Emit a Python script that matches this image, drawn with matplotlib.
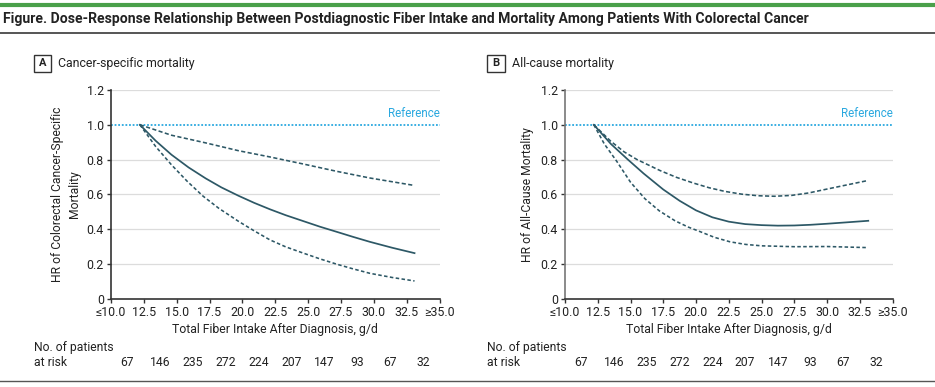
import matplotlib
matplotlib.use("Agg")
import matplotlib.pyplot as plt
from matplotlib.lines import Line2D
from matplotlib.patches import Rectangle
import matplotlib.transforms as mtransforms

FAM = ['Roboto', 'DejaVu Sans']
plt.rcParams['font.family'] = FAM

# ---------------- data ----------------
x_ticks = [10.0, 12.5, 15.0, 17.5, 20.0, 22.5, 25.0, 27.5, 30.0, 32.5, 35.0]
x_tick_labels = ['≤10.0', '12.5', '15.0', '17.5', '20.0', '22.5', '25.0', '27.5', '30.0', '32.5', '≥35.0']
y_ticks = [0, 0.2, 0.4, 0.6, 0.8, 1.0, 1.2]
y_tick_labels = ['0', '0.2', '0.4', '0.6', '0.8', '1.0', '1.2']

at_risk_x = [11.25, 13.75, 16.25, 18.75, 21.25, 23.75, 26.25, 28.75, 31.25, 33.75]
at_risk = [67, 146, 235, 272, 224, 207, 147, 93, 67, 32]

# Panel A: cancer-specific mortality
cs_x = [12.2, 13.4, 14.6, 15.9, 17.2, 18.4, 19.7, 20.9, 22.1, 23.3, 24.6, 25.9, 27.2, 28.4, 29.7, 31.4, 33.1]
cs_hr = [1.0, 0.908, 0.828, 0.755, 0.692, 0.640, 0.592, 0.551, 0.514, 0.480, 0.447, 0.414, 0.384, 0.356, 0.327, 0.293, 0.262]
cs_upper_x = [12.2, 14.6, 17.2, 19.7, 22.1, 24.6, 27.2, 29.7, 33.1]
cs_upper = [1.0, 0.94, 0.896, 0.851, 0.815, 0.775, 0.732, 0.694, 0.651]
cs_lower_x = [12.2, 13.4, 14.6, 15.8, 17.0, 18.2, 19.7, 20.9, 22.1, 23.3, 24.6, 25.9, 27.2, 28.4, 29.7, 31.4, 33.1]
cs_lower = [1.0, 0.875, 0.77, 0.675, 0.59, 0.52, 0.445, 0.39, 0.338, 0.298, 0.263, 0.229, 0.198, 0.172, 0.146, 0.122, 0.102]

# Panel B: all-cause mortality
ac_x = [12.2, 13.5, 14.8, 16.0, 17.5, 18.75, 20.0, 21.25, 22.5, 23.75, 25.0, 26.25, 27.5, 28.75, 30.0, 31.5, 33.15]
ac_hr = [1.0, 0.89, 0.80, 0.72, 0.628, 0.563, 0.508, 0.468, 0.443, 0.429, 0.423, 0.420, 0.421, 0.425, 0.431, 0.439, 0.448]
ac_upper_x = [12.2, 13.5, 14.5, 15.5, 17.25, 18.5, 19.8, 21.0, 22.2, 23.5, 24.75, 26.0, 27.3, 28.6, 29.85, 31.5, 33.15]
ac_upper = [1.0, 0.905, 0.845, 0.80, 0.737, 0.698, 0.665, 0.638, 0.617, 0.601, 0.592, 0.589, 0.594, 0.608, 0.628, 0.654, 0.68]
ac_lower_x = [12.2, 13.0, 13.95, 15.0, 16.1, 17.2, 18.4, 19.4, 20.3, 21.4, 22.6, 23.8, 25.0, 27.5, 30.0, 33.0]
ac_lower = [1.0, 0.89, 0.79, 0.67, 0.575, 0.505, 0.448, 0.412, 0.386, 0.353, 0.327, 0.312, 0.304, 0.299, 0.30, 0.294]

title = ("Figure. Dose-Response Relationship Between Postdiagnostic Fiber Intake "
         "and Mortality Among Patients With Colorectal Cancer")
xlabel = "Total Fiber Intake After Diagnosis, g/d"

# ---------------- layout ----------------
W, H = 935, 387
fig = plt.figure(figsize=(W / 100, H / 100), dpi=100)
renderer = fig.canvas.get_renderer()


def fx(x):
    return x / W


def fy(y):
    return 1 - y / H


def size_for(text, target_px, weight='normal', base=10.0):
    t = fig.text(0, 0, text, fontsize=base, fontweight=weight)
    w = t.get_window_extent(renderer).width
    t.remove()
    return base * target_px / w


CURVE = '#2d5866'
REF = '#2aa8df'
GRID = '#dcdcdc'
TXT = '#222222'

fs_title = size_for(title, 805, 'bold')
fs_name = size_for('Cancer-specific mortality', 138)
fs_tick = size_for('12.5', 24)
fs_xlab = size_for(xlabel, 206)
fs_risk = size_for('No. of patients', 80)
fs_ref = size_for('Reference', 52)
fs_ylab = size_for('HR of Colorectal Cancer-Specific', 176)

fig.add_artist(Line2D([0, 1], [fy(5), fy(5)], color='#4aa04a', lw=3))
fig.add_artist(Line2D([0, 1], [fy(33), fy(33)], color='#555555', lw=1.4))
fig.add_artist(Line2D([0, 1], [fy(381), fy(381)], color='#555555', lw=1.0))
fig.text(fx(3), fy(19), title, fontsize=fs_title, fontweight='bold', color=TXT,
         ha='left', va='center')

panels = [
    dict(left=111, right=439.5, label='A', name='Cancer-specific mortality',
         box=(34, 51), namex=58, ylabel='HR of Colorectal Cancer-Specific\nMortality', ylabx=66,
         spine='#333333', riskx=34,
         curves=((cs_x, cs_hr), (cs_upper_x, cs_upper), (cs_lower_x, cs_lower))),
    dict(left=565, right=892.5, label='B', name='All-cause mortality',
         box=(487, 505), namex=512, ylabel='HR of All-Cause Mortality', ylabx=527,
         spine='#777777', riskx=487,
         curves=((ac_x, ac_hr), (ac_upper_x, ac_upper), (ac_lower_x, ac_lower))),
]

top_px, bot_px = 90, 298.7
for p in panels:
    ax = fig.add_axes([fx(p['left']), fy(bot_px), fx(p['right'] - p['left']),
                       (bot_px - top_px) / H])
    ax.set_xlim(10, 35)
    ax.set_ylim(0, 1.2)
    for s in ('top', 'right'):
        ax.spines[s].set_visible(False)
    ax.spines['left'].set_color(p['spine'])
    ax.spines['left'].set_linewidth(1.2)
    ax.spines['bottom'].set_color('#333333')
    ax.spines['bottom'].set_linewidth(1.2)
    ax.set_xticks(x_ticks)
    ax.set_xticklabels(x_tick_labels)
    ax.set_yticks(y_ticks)
    ax.set_yticklabels(y_tick_labels)
    ax.tick_params(axis='both', direction='out', length=3.2, width=1.0, color='#333333',
                   labelsize=fs_tick, labelcolor=TXT, pad=2)
    for yv in y_ticks:
        if yv in (0, 1.0):
            continue
        ax.axhline(yv, color=GRID, lw=0.9, zorder=0)
    ax.axhline(1.0, color=REF, lw=1.3, ls=(0, (1, 1)), zorder=1)
    ax.text(35, 1.025, 'Reference', color=REF, fontsize=fs_ref, ha='right', va='bottom')

    (cx, cy), (ux, uy), (lx, ly) = p['curves']
    ax.plot(cx, cy, color=CURVE, lw=1.25, zorder=3)
    ax.plot(ux, uy, color=CURVE, lw=1.15, dashes=(2.6, 1.5), zorder=3)
    ax.plot(lx, ly, color=CURVE, lw=1.15, dashes=(2.2, 1.5), zorder=3)

    ax.set_xlabel(xlabel, fontsize=fs_xlab, color=TXT, labelpad=3)

    fig.text(fx(p['ylabx']), fy((top_px + bot_px) / 2), p['ylabel'], rotation=90,
             fontsize=fs_ylab, color=TXT, ha='center', va='center', multialignment='center',
             linespacing=1.3)

    b0, b1 = p['box']
    fig.add_artist(Rectangle((fx(b0), fy(72)), fx(b1 - b0), 17 / H, fill=False,
                             edgecolor='#333333', lw=1.0))
    fig.text(fx((b0 + b1) / 2), fy(63.5), p['label'], fontsize=fs_name * 0.9, fontweight='bold',
             color=TXT, ha='center', va='center')
    fig.text(fx(p['namex']), fy(63.5), p['name'], fontsize=fs_name, color=TXT,
             ha='left', va='center')

    fig.text(fx(p['riskx']), fy(347), 'No. of patients', fontsize=fs_risk, color=TXT,
             ha='left', va='center')
    fig.text(fx(p['riskx']), fy(362), 'at risk', fontsize=fs_risk, color=TXT,
             ha='left', va='center')
    tr = mtransforms.blended_transform_factory(ax.transData, fig.transFigure)
    for xv, n in zip(at_risk_x, at_risk):
        ax.text(xv, fy(362), str(n), transform=tr, fontsize=fs_risk, color=TXT,
                ha='center', va='center', clip_on=False)

fig.savefig('out.png', dpi=100)
